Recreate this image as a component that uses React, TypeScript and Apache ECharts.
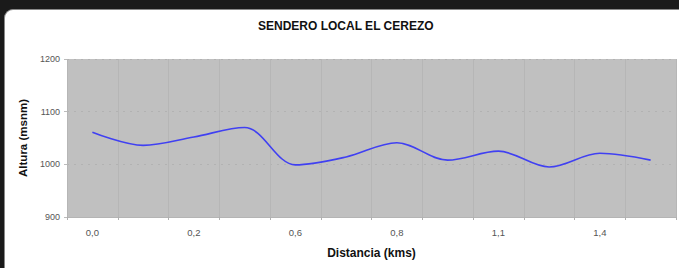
import React, { useEffect, useRef } from "react";
import * as echarts from "echarts";

const categories = ["0,0", "0,1", "0,2", "0,4", "0,6", "0,7", "0,8", "1,0", "1,1", "1,3", "1,4", "1,5"];
const altitudes = [1061, 1036, 1052, 1070, 999, 1014, 1041, 1008, 1025, 995, 1021, 1008];
const yTicks = { min: 900, max: 1200, interval: 100 };
const chartTitle = "SENDERO LOCAL EL CEREZO";
const xTitle = "Distancia (kms)";
const yTitle = "Altura (msnm)";

export default function App() {
  const ref = useRef<HTMLDivElement>(null);
  useEffect(() => {
    if (!ref.current) return;
    const chart = echarts.init(ref.current, null, { renderer: "svg" });
    const font = "'Liberation Sans', Arial, sans-serif";
    chart.setOption({
      animation: false,
      textStyle: { fontFamily: font },
      graphic: [
        {
          type: "text",
          left: 258,
          top: 20,
          style: {
            text: chartTitle,
            fontFamily: font,
            fontWeight: "bold",
            fontSize: 12,
            fill: "#111",
          },
        },
      ],
      grid: { left: 67, right: 3, top: 59, bottom: 51, backgroundColor: "#c0c0c0", show: true, borderWidth: 0 },
      xAxis: {
        type: "category",
        data: categories,
        boundaryGap: true,
        name: xTitle,
        nameLocation: "middle",
        nameGap: 30,
        nameTextStyle: { fontFamily: font, fontWeight: "bold", fontSize: 12, color: "#111" },
        axisLine: { show: true, lineStyle: { color: "#b4b4b4", width: 1 } },
        axisTick: { show: true, interval: 0, length: 3, lineStyle: { color: "#b0b0b0" } },
        axisLabel: { interval: 1, margin: 10, fontSize: 9.5, color: "#555", fontFamily: font },
        splitLine: { show: true, interval: 0, lineStyle: { color: "#b6b6b6", width: 1 } },
      },
      yAxis: {
        type: "value",
        min: yTicks.min,
        max: yTicks.max,
        interval: yTicks.interval,
        name: yTitle,
        nameLocation: "middle",
        nameGap: 36,
        nameTextStyle: { fontFamily: font, fontWeight: "bold", fontSize: 11.5, color: "#111" },
        axisLine: { show: false },
        axisTick: { show: true, length: 3, lineStyle: { color: "#bbbbbb" } },
        axisLabel: { margin: 7, fontSize: 9, color: "#555", fontFamily: font, formatter: (v: number) => String(v) },
        splitLine: { show: true, lineStyle: { color: "#b2b2b2", type: [2, 5], width: 1 } },
      },
      series: [
        {
          type: "line",
          data: altitudes,
          smooth: 0.34,
          symbol: "none",
          lineStyle: { color: "#4040f2", width: 1.6 },
        },
      ],
    });
    return () => chart.dispose();
  }, []);
  return (
    <div style={{ position: "fixed", left: 0, top: 0, width: 679, height: 268, background: "#1a1a1a", overflow: "hidden" }}>
      <div
        style={{
          position: "absolute",
          left: 4,
          top: 9,
          width: 700,
          height: 300,
          background: "#ffffff",
          borderTopLeftRadius: 9,
          borderLeft: "1px solid #888",
          borderTop: "1px solid #888",
        }}
      />
      <div ref={ref} style={{ position: "absolute", left: 0, top: 0, width: 679, height: 268 }} />
    </div>
  );
}
